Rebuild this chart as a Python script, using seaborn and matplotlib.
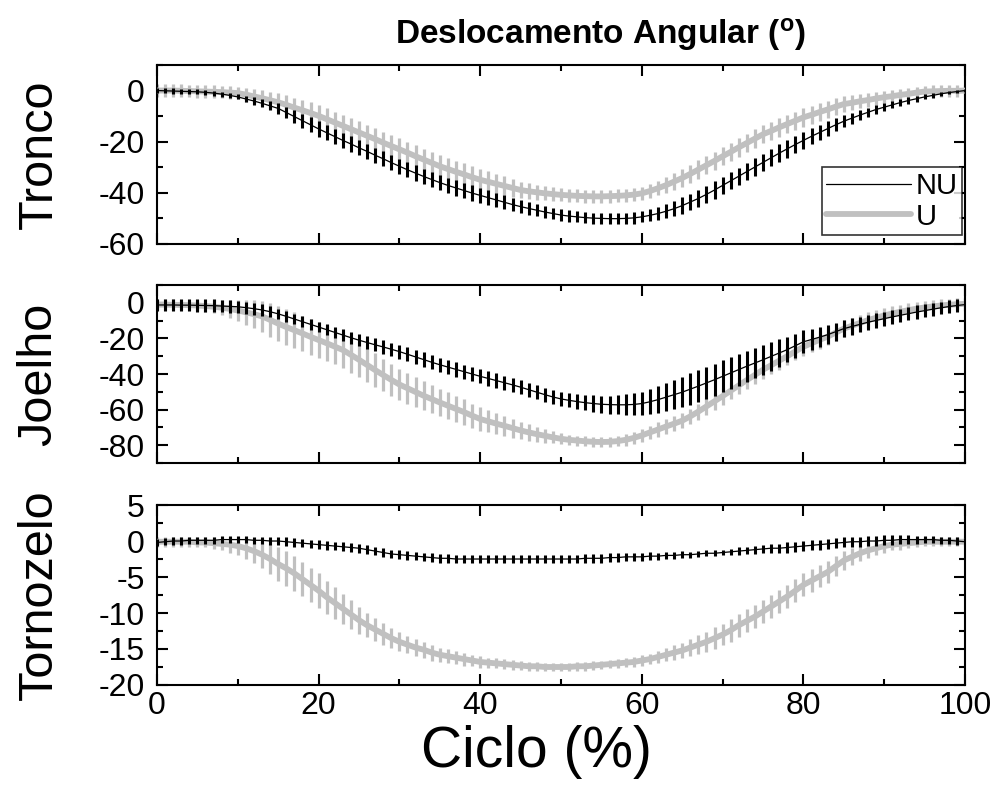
import numpy as np
import pandas as pd
import seaborn as sns
import matplotlib.pyplot as plt
from matplotlib.ticker import MultipleLocator

# ciclo (%) 0..100, um ponto por 1%
ciclo = list(range(0, 101))

# Tronco
tronco_nu = [0.0, -0.1, -0.2, -0.3, -0.4, -0.5, -0.7, -1.0, -1.4, -1.9, -2.5,
             -3.3, -4.1, -5.0, -6.0, -7.0, -8.6, -10.2, -11.8, -13.4, -15.0,
             -16.5, -18.0, -19.5, -20.9, -22.4, -23.8, -25.3, -26.7, -28.2, -29.6,
             -31.0, -32.3, -33.6, -34.8, -36.0, -37.1, -38.1, -39.1, -40.1, -41.0,
             -41.9, -42.8, -43.7, -44.6, -45.4, -46.1, -46.8, -47.5, -48.1, -48.7,
             -49.1, -49.4, -49.7, -49.9, -50.0, -50.1, -50.1, -50.0, -49.8, -49.4,
             -48.8, -48.1, -47.2, -46.2, -45.0, -43.6, -42.2, -40.6, -38.9, -37.1,
             -35.3, -33.5, -31.7, -29.9, -28.1, -26.3, -24.5, -22.8, -21.1, -19.5,
             -17.9, -16.4, -14.9, -13.4, -12.0, -10.8, -9.6, -8.5, -7.4, -6.5,
             -5.6, -4.7, -3.9, -3.2, -2.5, -1.9, -1.3, -0.8, -0.4, 0.0]
tronco_nu_dp = [1.0] * 11 + \
    [1.2, 1.4, 1.6, 1.8, 2.0, 2.3, 2.6, 2.8, 3.0, 3.0] + [3.0] * 20 + \
    [2.9, 2.8, 2.7, 2.6, 2.5, 2.4, 2.3, 2.3, 2.2, 2.2] + [2.2] * 10 + \
    [2.4, 2.6, 2.8, 3.0, 3.2, 3.3, 3.4, 3.4, 3.4, 3.4] + [3.4] * 10 + \
    [3.2, 3.0, 2.8, 2.6, 2.4, 2.2, 2.0, 1.8, 1.6, 1.5] + \
    [1.4, 1.3, 1.2, 1.1, 1.0, 0.9, 0.8, 0.7, 0.6, 0.5]
tronco_u = [0.0, 0.0, 0.0, -0.1, -0.2, -0.3, -0.4, -0.5, -0.6, -0.8, -1.0,
            -1.6, -2.3, -3.0, -3.8, -4.6, -5.6, -6.7, -7.7, -8.8, -9.9,
            -11.2, -12.5, -13.8, -15.1, -16.4, -17.7, -19.0, -20.4, -21.7, -23.0,
            -24.3, -25.7, -27.0, -28.3, -29.6, -30.7, -31.8, -32.8, -33.9, -34.9,
            -35.7, -36.5, -37.3, -38.1, -38.9, -39.4, -39.8, -40.2, -40.5, -40.8,
            -41.0, -41.2, -41.3, -41.4, -41.4, -41.3, -41.2, -41.0, -40.7, -40.2,
            -39.3, -38.2, -37.0, -35.6, -34.2, -32.6, -30.9, -29.2, -27.5, -25.7,
            -24.0, -22.2, -20.5, -18.8, -17.1, -15.8, -14.4, -13.1, -11.8, -10.5,
            -9.5, -8.4, -7.4, -6.3, -5.3, -4.8, -4.2, -3.7, -3.1, -2.6,
            -2.2, -1.7, -1.3, -0.8, -0.4, -0.3, -0.2, -0.1, -0.1, 0.0]
tronco_u_dp = [2.5] * 11 + \
    [2.7, 2.9, 3.1, 3.3, 3.5, 3.7, 3.9, 4.1, 4.2, 4.3] + [4.3] * 20 + \
    [4.1, 3.9, 3.7, 3.5, 3.3, 3.1, 2.9, 2.7, 2.6, 2.5] + [2.5] * 10 + \
    [2.6, 2.8, 3.0, 3.2, 3.4, 3.5, 3.6, 3.6, 3.6, 3.6] + [3.6] * 10 + \
    [3.5, 3.4, 3.3, 3.2, 3.0, 2.9, 2.8, 2.6, 2.5, 2.4] + [2.3] * 10

# Joelho
joelho_nu = [-1.2, -1.2, -1.2, -1.3, -1.3, -1.4, -1.5, -1.6, -1.8, -2.0, -2.2,
             -2.7, -3.3, -4.0, -5.0, -6.2, -7.6, -9.1, -10.6, -12.1, -13.6,
             -15.1, -16.6, -18.1, -19.6, -21.0, -22.3, -23.6, -24.8, -26.1, -27.4,
             -28.9, -30.4, -31.9, -33.4, -34.8, -36.1, -37.4, -38.7, -40.0, -41.3,
             -42.5, -43.7, -44.9, -46.1, -47.4, -48.8, -50.2, -51.6, -52.9, -54.0,
             -54.8, -55.5, -56.1, -56.6, -57.0, -57.2, -57.3, -57.3, -57.1, -56.6,
             -55.6, -54.4, -53.0, -51.6, -50.2, -48.5, -46.8, -45.0, -43.2, -41.3,
             -39.4, -37.5, -35.6, -33.8, -32.0, -30.1, -28.2, -26.3, -24.1, -21.9,
             -20.6, -19.3, -17.9, -16.2, -14.5, -13.3, -12.1, -10.9, -9.9, -8.9,
             -7.9, -7.0, -6.1, -5.2, -4.4, -3.6, -2.8, -2.1, -1.5, -1.0]
joelho_nu_dp = [3.5] * 11 + \
    [3.4, 3.3, 3.2, 3.1, 3.0, 3.0, 3.0, 3.0, 3.0, 3.0] + \
    [3.0, 3.1, 3.2, 3.3, 3.4, 3.5, 3.6, 3.7, 3.8, 3.9] + [4.0] * 20 + \
    [4.0, 4.2, 4.4, 4.6, 4.8, 5.0, 5.4, 5.8, 6.2, 6.6] + \
    [7.0, 7.4, 7.8, 8.2, 8.5, 8.8, 9.0, 9.0, 9.0, 9.0] + \
    [9.0, 9.0, 8.8, 8.6, 8.4, 8.0, 7.6, 7.2, 6.8, 6.4] + \
    [6.0, 5.7, 5.4, 5.1, 4.8, 4.6, 4.4, 4.2, 4.0, 3.9] + \
    [3.8, 3.8, 3.7, 3.7, 3.6, 3.6, 3.5, 3.5, 3.5, 3.5]
joelho_u = [-1.0, -1.0, -1.1, -1.2, -1.3, -1.5, -1.8, -2.2, -2.7, -3.4, -4.3,
            -5.3, -6.4, -7.6, -9.6, -11.7, -13.6, -15.4, -17.2, -19.1, -20.9,
            -22.7, -24.6, -26.5, -29.2, -32.0, -34.9, -37.8, -40.6, -43.3, -45.9,
            -48.0, -50.1, -52.2, -54.1, -56.0, -57.8, -59.6, -61.4, -63.4, -65.3,
            -66.6, -67.9, -69.1, -70.4, -71.7, -72.8, -73.8, -74.7, -75.6, -76.4,
            -77.0, -77.4, -77.8, -78.1, -78.2, -78.1, -77.7, -77.0, -75.9, -74.5,
            -72.8, -71.2, -69.5, -67.9, -66.2, -63.8, -61.1, -58.2, -55.3, -52.4,
            -49.4, -46.4, -43.4, -40.5, -37.6, -35.1, -32.5, -30.0, -27.3, -24.7,
            -22.7, -20.8, -19.0, -16.7, -14.5, -12.9, -11.3, -9.7, -8.4, -7.1,
            -6.0, -5.0, -4.1, -3.3, -2.6, -2.0, -1.5, -1.1, -0.8, -0.6]
joelho_u_dp = [3.0, 3.0, 3.0, 3.0, 3.0, 3.0, 3.2, 3.6, 4.2, 5.0, 6.0] + \
    [7.0, 8.0, 8.8, 9.4, 9.8, 10.0, 10.0, 10.0, 10.0, 10.0] + \
    [10.0, 10.0, 10.0, 10.0, 9.8, 9.6, 9.4, 9.2, 9.0, 8.8] + \
    [8.6, 8.4, 8.2, 8.0, 7.8, 7.6, 7.4, 7.1, 6.8, 6.5] + \
    [6.2, 5.9, 5.6, 5.3, 5.0, 4.6, 4.2, 3.8, 3.4, 3.0] + \
    [2.8] * 6 + [3.0, 3.2, 3.4, 3.6] + \
    [3.8, 4.0, 4.1, 4.2, 4.3, 4.4, 4.5, 4.6, 4.7, 4.8] + \
    [4.9] + [5.0] * 9 + \
    [5.0, 5.0, 4.9, 4.8, 4.7, 4.6, 4.5, 4.4, 4.3, 4.2] + \
    [4.1, 4.0, 3.9, 3.8, 3.7, 3.6, 3.5, 3.4, 3.3, 3.2]

# Tornozelo
tornozelo_nu = [-0.2, -0.1, 0.0, 0.0, 0.1, 0.1, 0.1, 0.1, 0.2, 0.2, 0.2,
                0.2, 0.1, 0.1, 0.0, 0.0, -0.1, -0.2, -0.3, -0.4, -0.5,
                -0.6, -0.7, -0.8, -0.9, -1.0, -1.2, -1.4, -1.6, -1.8, -1.9,
                -2.0, -2.1, -2.2, -2.3, -2.4, -2.4, -2.5, -2.5, -2.5, -2.5,
                -2.5, -2.5, -2.5, -2.5, -2.5, -2.5, -2.5, -2.5, -2.5, -2.5,
                -2.5, -2.5, -2.4, -2.4, -2.4, -2.3, -2.3, -2.2, -2.2, -2.2,
                -2.1, -2.1, -2.0, -2.0, -1.9, -1.9, -1.8, -1.7, -1.7, -1.6,
                -1.5, -1.4, -1.3, -1.2, -1.1, -1.0, -1.0, -0.9, -0.8, -0.7,
                -0.6, -0.5, -0.4, -0.3, -0.2, -0.1, -0.1, 0.0, 0.0, 0.1,
                0.1, 0.2, 0.2, 0.2, 0.2, 0.2, 0.1, 0.1, 0.0, -0.1]
tornozelo_nu_dp = [0.5] * 11 + \
    [0.5, 0.5, 0.5, 0.5, 0.55, 0.6, 0.6, 0.6, 0.6, 0.6] + [0.6] * 40 + \
    [0.55, 0.5, 0.5, 0.45, 0.45, 0.4, 0.4, 0.4, 0.4, 0.4] + \
    [0.45, 0.5, 0.5, 0.55, 0.6, 0.6, 0.65, 0.7, 0.7, 0.7] + [0.7] * 10 + \
    [0.7, 0.65, 0.6, 0.55, 0.5, 0.5, 0.5, 0.5, 0.5, 0.5]
tornozelo_u = [-0.1, -0.1, -0.1, -0.1, -0.1, -0.2, -0.2, -0.3, -0.4, -0.5, -0.7,
               -1.0, -1.4, -1.9, -2.5, -3.2, -3.8, -4.5, -5.3, -6.1, -6.9,
               -7.8, -8.6, -9.4, -10.2, -11.0, -11.7, -12.3, -12.9, -13.5, -14.0,
               -14.4, -14.8, -15.1, -15.5, -15.8, -16.0, -16.2, -16.4, -16.6, -16.8,
               -16.9, -17.0, -17.1, -17.2, -17.3, -17.4, -17.4, -17.5, -17.5, -17.5,
               -17.5, -17.4, -17.4, -17.3, -17.2, -17.1, -17.0, -16.9, -16.8, -16.6,
               -16.4, -16.1, -15.8, -15.5, -15.2, -14.8, -14.4, -14.0, -13.5, -13.0,
               -12.4, -11.7, -11.1, -10.5, -9.8, -9.1, -8.4, -7.7, -6.9, -6.1,
               -5.5, -4.9, -4.3, -3.5, -2.7, -2.2, -1.7, -1.3, -1.0, -0.7,
               -0.5, -0.4, -0.3, -0.2, -0.1, -0.1, -0.1, -0.1, -0.1, -0.1]
tornozelo_u_dp = [0.7, 0.7, 0.7, 0.7, 0.7, 0.7, 0.7, 0.8, 0.9, 1.1, 1.3] + \
    [1.5, 1.7, 1.9, 2.1, 2.3, 2.4, 2.4, 2.4, 2.4, 2.4] + \
    [2.3, 2.2, 2.1, 2.0, 1.9, 1.7, 1.6, 1.5, 1.4, 1.3] + \
    [1.2, 1.2, 1.1, 1.1, 1.0, 1.0, 0.9, 0.9, 0.8, 0.8] + \
    [0.7, 0.7, 0.7, 0.7, 0.6, 0.6, 0.6, 0.6, 0.6, 0.6] + \
    [0.6] * 8 + [0.65, 0.7] + \
    [0.75, 0.8, 0.9, 1.0, 1.1, 1.2, 1.3, 1.4, 1.5, 1.5] + [1.6] * 10 + \
    [1.6, 1.5, 1.5, 1.4, 1.3, 1.2, 1.1, 1.0, 0.9, 0.9] + \
    [0.8, 0.8, 0.7, 0.7, 0.6, 0.6, 0.6, 0.6, 0.6, 0.6]

paineis = [
    ('Tronco', tronco_nu, tronco_nu_dp, tronco_u, tronco_u_dp, (-60, 10), 20, 10),
    ('Joelho', joelho_nu, joelho_nu_dp, joelho_u, joelho_u_dp, (-90, 10), 20, 10),
    ('Tornozelo', tornozelo_nu, tornozelo_nu_dp, tornozelo_u, tornozelo_u_dp, (-20, 5), 5, 2.5),
]

sns.set_style('ticks')
plt.rcParams['font.family'] = ['Liberation Sans', 'DejaVu Sans']
plt.rcParams['mathtext.fontset'] = 'custom'
plt.rcParams['mathtext.rm'] = 'Liberation Sans'
plt.rcParams['mathtext.bf'] = 'Liberation Sans:bold'
plt.rcParams['axes.unicode_minus'] = False
for chave in ['text.color', 'axes.labelcolor', 'xtick.color', 'ytick.color']:
    plt.rcParams[chave] = 'black'

CINZA = '#c0c0c0'

fig = plt.figure(figsize=(10.02, 8.02), dpi=100)
posicoes = [(0.1567, 0.6958, 0.8064, 0.2232),
            (0.1567, 0.4227, 0.8064, 0.2219),
            (0.1567, 0.1459, 0.8064, 0.2244)]

for k, (nome, nu, nu_dp, u, u_dp, ylim, major, minor) in enumerate(paineis):
    ax = fig.add_axes(posicoes[k])
    df = pd.DataFrame({'Ciclo': ciclo * 2, 'valor': u + nu,
                       'grupo': ['U'] * len(ciclo) + ['NU'] * len(ciclo)})

    # U (cinza, grosso) primeiro, NU por cima
    ax.errorbar(ciclo, u, yerr=u_dp, fmt='none', ecolor=CINZA, elinewidth=2.3, capsize=0, zorder=2)
    sns.lineplot(data=df[df.grupo == 'U'], x='Ciclo', y='valor', color=CINZA, lw=4.2,
                 ax=ax, label='U', zorder=3)
    ax.errorbar(ciclo, nu, yerr=nu_dp, fmt='none', ecolor='black', elinewidth=2.2, capsize=0, zorder=4)
    sns.lineplot(data=df[df.grupo == 'NU'], x='Ciclo', y='valor', color='black', lw=0.9,
                 ax=ax, label='NU', zorder=5)

    ax.set_xlim(0, 100)
    ax.set_ylim(*ylim)
    ax.xaxis.set_major_locator(MultipleLocator(20))
    ax.xaxis.set_minor_locator(MultipleLocator(10))
    ax.yaxis.set_major_locator(MultipleLocator(major))
    ax.yaxis.set_minor_locator(MultipleLocator(minor))
    ax.tick_params(which='both', direction='in', top=True, right=True, width=1.5,
                   labelsize=23)
    ax.tick_params(axis='x', pad=4)
    ax.tick_params(axis='y', pad=9)
    ax.tick_params(which='major', length=8)
    ax.tick_params(which='minor', length=4)
    for s in ax.spines.values():
        s.set_linewidth(1.5)
        s.set_color('black')
    ax.set_ylabel(nome, fontsize=35)
    ax.yaxis.set_label_coords(-0.118, 0.5)

    if k < 2:
        ax.set_xlabel('')
        ax.tick_params(labelbottom=False)
    else:
        ax.set_xlabel('Ciclo (%)', fontsize=41, labelpad=2)
        ax.xaxis.set_label_coords(0.469, -0.22)
        ax.xaxis.label.set_va('top')

    if k == 0:
        h, l = ax.get_legend_handles_labels()
        ordem = [l.index('NU'), l.index('U')]
        leg = ax.legend([h[i] for i in ordem], [l[i] for i in ordem], loc='lower right',
                        bbox_to_anchor=(0.996, 0.05), borderaxespad=0,
                        fontsize=21, frameon=True, fancybox=False, handlelength=2.9,
                        borderpad=0.15, labelspacing=0.1, handletextpad=0.15)
        leg.get_frame().set_edgecolor('black')
        leg.get_frame().set_linewidth(1.2)
    else:
        ax.get_legend().remove()

fig.text(0.599, 0.957, r'Deslocamento Angular ($\mathbf{^{o}}$)', ha='center', va='center',
         fontsize=24, fontweight='bold')

fig.savefig('out.png', dpi=100)
